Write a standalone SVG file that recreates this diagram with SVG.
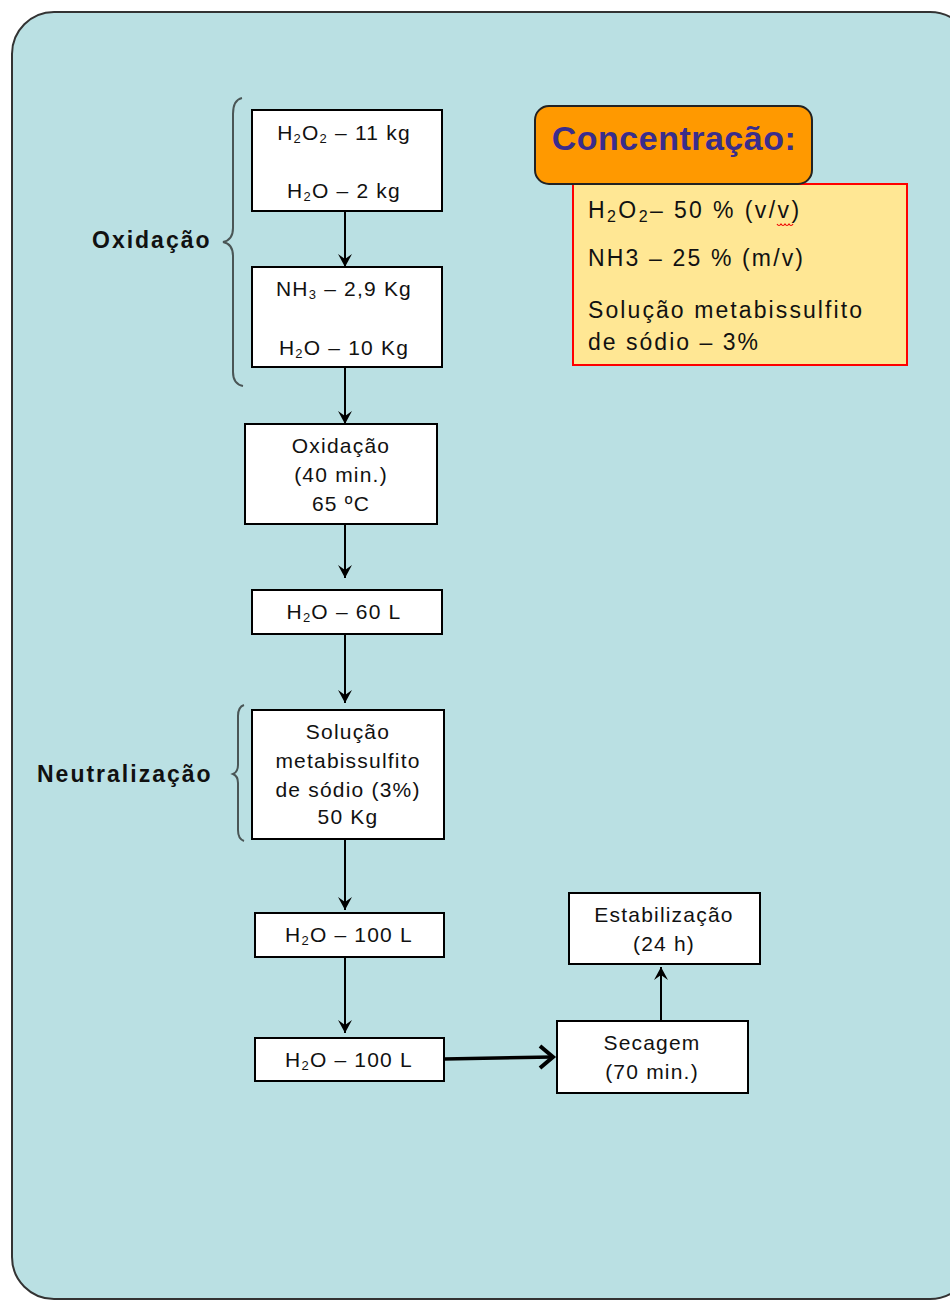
<svg xmlns="http://www.w3.org/2000/svg" width="950" height="1300" viewBox="0 0 950 1300">
<style>
.bx{fill:#fff;stroke:#000;stroke-width:2}
.t{font-family:"Liberation Sans",Arial,sans-serif;font-size:21px;fill:#111;text-anchor:middle;letter-spacing:1.2px}
.lbl{font-family:"Liberation Sans",Arial,sans-serif;font-size:23px;font-weight:bold;fill:#111;letter-spacing:2px}
.ct{font-family:"Liberation Sans",Arial,sans-serif;font-size:23px;fill:#111}
.ln{stroke:#000;stroke-width:2;fill:none}
.br{stroke:#4a5656;stroke-width:2;fill:none}
</style>
<defs>
<marker id="ah" markerUnits="userSpaceOnUse" markerWidth="16" markerHeight="16" viewBox="-14 -8 16 16" refX="0" refY="0" orient="auto">
<path d="M0,0 L-13,-7 L-8,0 L-13,7 z" fill="#000"/>
</marker>
</defs>
<rect id="background" x="12" y="12" width="960" height="1287" rx="42" fill="#BAE0E3" stroke="#333" stroke-width="2"/>

<g id="brace-oxidacao">
<path class="br" d="M242,98 Q233,100 233,114 L233,228 Q233,240 223,242 Q233,244 233,256 L233,372 Q233,384 243,386"/>
<text class="lbl" x="92" y="248">Oxidação</text>
</g>
<g id="brace-neutralizacao">
<path class="br" d="M244,705 Q238,707 238,716 L238,765 Q238,772 233,774 Q238,776 238,783 L238,830 Q238,839 244,841"/>
<text class="lbl" x="37" y="782">Neutralização</text>
</g>

<g id="connectors">
<line class="ln" x1="345" y1="211" x2="345" y2="267" marker-end="url(#ah)"/>
<line class="ln" x1="345" y1="367" x2="345" y2="424" marker-end="url(#ah)"/>
<line class="ln" x1="345" y1="524" x2="345" y2="578" marker-end="url(#ah)"/>
<line class="ln" x1="345" y1="634" x2="345" y2="703" marker-end="url(#ah)"/>
<line class="ln" x1="345" y1="839" x2="345" y2="910" marker-end="url(#ah)"/>
<line class="ln" x1="345" y1="957" x2="345" y2="1033" marker-end="url(#ah)"/>
<line class="ln" x1="661" y1="1021" x2="661" y2="967" marker-end="url(#ah)"/>
<line x1="444" y1="1059" x2="553" y2="1057" stroke="#000" stroke-width="3.5"/>
<polyline points="540,1046 553,1057 540,1068" fill="none" stroke="#000" stroke-width="4"/>
</g>

<g id="n1">
<rect class="bx" x="252" y="110" width="190" height="101"/>
<text class="t" x="344" y="140">H<tspan font-size="13" dy="3">2</tspan><tspan dy="-3">O</tspan><tspan font-size="13" dy="3">2</tspan><tspan dy="-3"> – 11 kg</tspan></text>
<text class="t" x="344" y="198">H<tspan font-size="13" dy="3">2</tspan><tspan dy="-3">O – 2 kg</tspan></text>
</g>
<g id="n2">
<rect class="bx" x="252" y="267" width="190" height="100"/>
<text class="t" x="344" y="296">NH<tspan font-size="13" dy="3">3</tspan><tspan dy="-3"> – 2,9 Kg</tspan></text>
<text class="t" x="344" y="355">H<tspan font-size="13" dy="3">2</tspan><tspan dy="-3">O – 10 Kg</tspan></text>
</g>
<g id="n3">
<rect class="bx" x="245" y="424" width="192" height="100"/>
<text class="t" x="341" y="453">Oxidação</text>
<text class="t" x="341" y="482">(40 min.)</text>
<text class="t" x="341" y="511">65 ºC</text>
</g>
<g id="n4">
<rect class="bx" x="252" y="590" width="190" height="44"/>
<text class="t" x="344" y="619">H<tspan font-size="13" dy="3">2</tspan><tspan dy="-3">O – 60 L</tspan></text>
</g>
<g id="n5">
<rect class="bx" x="252" y="710" width="192" height="129"/>
<text class="t" x="348" y="739">Solução</text>
<text class="t" x="348" y="768">metabissulfito</text>
<text class="t" x="348" y="797">de sódio (3%)</text>
<text class="t" x="348" y="824">50 Kg</text>
</g>
<g id="n6">
<rect class="bx" x="255" y="913" width="189" height="44"/>
<text class="t" x="349" y="942">H<tspan font-size="13" dy="3">2</tspan><tspan dy="-3">O – 100 L</tspan></text>
</g>
<g id="n7">
<rect class="bx" x="255" y="1038" width="189" height="43"/>
<text class="t" x="349" y="1067">H<tspan font-size="13" dy="3">2</tspan><tspan dy="-3">O – 100 L</tspan></text>
</g>
<g id="n8">
<rect class="bx" x="557" y="1021" width="191" height="72"/>
<text class="t" x="652" y="1050">Secagem</text>
<text class="t" x="652" y="1079">(70 min.)</text>
</g>
<g id="n9">
<rect class="bx" x="569" y="893" width="191" height="71"/>
<text class="t" x="664" y="922">Estabilização</text>
<text class="t" x="664" y="951">(24 h)</text>
</g>

<g id="concentracao">
<rect x="573" y="184" width="334" height="181" fill="#FFE794" stroke="#F00" stroke-width="2"/>
<rect x="535" y="106" width="277" height="78" rx="14" fill="#FF9900" stroke="#222" stroke-width="2"/>
<text x="674" y="150" font-family="'Liberation Sans',Arial,sans-serif" font-size="34" font-weight="bold" fill="#3a2d8c" text-anchor="middle" letter-spacing="0.5">Concentração:</text>
<text class="ct" x="588" y="218" letter-spacing="2.4">H<tspan font-size="16" dy="4">2</tspan><tspan dy="-4">O</tspan><tspan font-size="16" dy="4">2</tspan><tspan dy="-4">– 50 % (v/v)</tspan></text>
<path d="M777,224 q2,3 4,0 q2,3 4,0 q2,3 4,0 q2,3 4,0" fill="none" stroke="#e00" stroke-width="1.2"/>
<text class="ct" x="588" y="266" textLength="215" lengthAdjust="spacing">NH3 – 25 % (m/v)</text>
<text class="ct" x="588" y="318" textLength="274" lengthAdjust="spacing">Solução metabissulfito</text>
<text class="ct" x="588" y="350" textLength="170" lengthAdjust="spacing">de sódio – 3%</text>
</g>
</svg>
